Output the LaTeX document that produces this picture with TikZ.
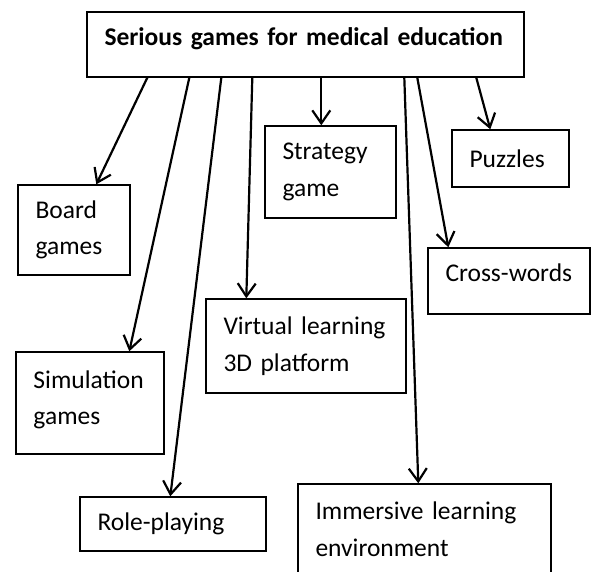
\documentclass[tikz,border=0pt]{standalone}
\usepackage{fontspec}
\setmainfont{Carlito}
\usetikzlibrary{arrows.meta}
\begin{document}
\begin{tikzpicture}[x=1pt,y=-1pt,
  box/.style={draw=black, line width=1.4pt, inner xsep=17.5pt, inner ysep=0pt, align=left, anchor=center,
    font=\fontsize{25.5}{36.5}\selectfont},
  arr/.style={line width=2.2pt, -{Straight Barb[length=13pt,width=18pt,line width=2.2pt]}}]
\clip (0,0) rectangle (595,572);
\fill[white] (0,0) rectangle (595,572);
\node[box, text width=402pt, minimum height=65pt, font=\fontsize{25.5}{36.5}\selectfont\bfseries] (title) at (305.5,44.5)
  {\raisebox{6pt}[\height][\depth]{\mbox{Serious games for medical education}}};
\node[box, text width=77pt, minimum height=90pt] (board) at (74,230) {\mbox{Board}\\\mbox{games}};
\node[box, text width=96pt, minimum height=92pt] (strat) at (330.5,172) {\mbox{Strategy}\\\mbox{game}};
\node[box, text width=82pt, minimum height=57pt] (puzz) at (510.5,158.5) {\mbox{Puzzles}};
\node[box, text width=127pt, minimum height=66pt] (cross) at (509,281) {\raisebox{8pt}[\height][\depth]{\mbox{Cross-words}}};
\node[box, text width=165pt, minimum height=94pt] (virt) at (306,346) {\mbox{Virtual learning}\\\mbox{3D platform}};
\node[box, text width=113pt, minimum height=102pt] (sim) at (90,403) {\raisebox{3pt}[\height][\depth]{\mbox{Simulation}}\\\raisebox{3pt}[\height][\depth]{\mbox{games}}};
\node[box, text width=151pt, minimum height=54pt] (role) at (173,524) {\mbox{Role-playing}};
\node[box, text width=218pt, minimum height=90pt] (imm) at (424.5,529) {\mbox{Immersive learning}\\\mbox{environment}};
\draw[arr] ([xshift=61pt]title.south west) -- ([xshift=79pt]board.north west);
\draw[arr] ([xshift=103pt]title.south west) -- ([xshift=114pt]sim.north west);
\draw[arr] ([xshift=135pt]title.south west) -- ([xshift=91pt]role.north west);
\draw[arr] ([xshift=166pt]title.south west) -- ([xshift=41pt]virt.north west);
\draw[arr] ([xshift=235pt]title.south west) -- ([xshift=57pt]strat.north west);
\draw[arr] ([xshift=318pt]title.south west) -- ([xshift=121pt]imm.north west);
\draw[arr] ([xshift=331pt]title.south west) -- ([xshift=21pt]cross.north west);
\draw[arr] ([xshift=390pt]title.south west) -- ([xshift=39pt]puzz.north west);
\end{tikzpicture}
\end{document}
